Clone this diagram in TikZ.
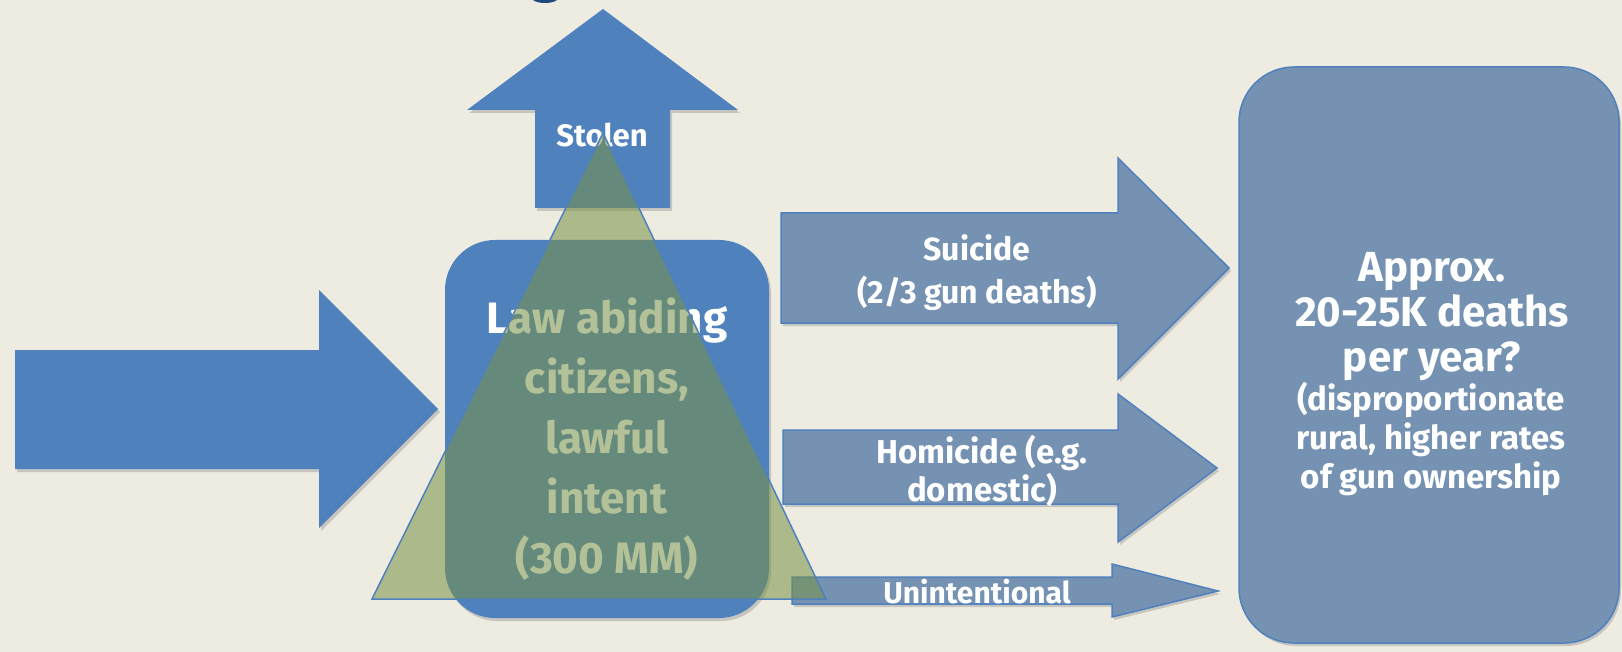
\documentclass[tikz,border=0pt]{standalone}
\usepackage{fontspec}
\setmainfont{Fira Sans}
\usetikzlibrary{shadows}

\definecolor{cream}{HTML}{EEEBE1}
\definecolor{solidblue}{HTML}{4F81BD}
\definecolor{greyblue}{HTML}{7592B3}
\definecolor{olive}{HTML}{789249}
\definecolor{navy}{HTML}{1F497D}

\begin{document}
\begin{tikzpicture}[x=1pt,y=-1pt,
    dropped/.style={drop shadow={shadow xshift=2pt,shadow yshift=-3pt,opacity=.35}},
    Solid/.style={fill=solidblue,dropped},
    Pale/.style={fill=greyblue,draw=solidblue,line width=1.5pt,dropped},
    Pyramid/.style={fill=olive,fill opacity=.56,draw=solidblue,line width=1.5pt},
    txt/.style={text=white,align=center,anchor=base,inner sep=0pt}]
    \fill[cream] (0,0) rectangle (1622,652);
    \useasboundingbox (0,0) rectangle (1622,652);
    \fill[navy] (533,0) .. controls (538,4) and (552,4) .. (557,0) -- cycle;

    \fill[Solid] (15,350) -- (319,350) -- (319,290) -- (438,409) -- (319,528) -- (319,469) -- (15,469) -- cycle;
    \fill[Solid] (535,208) -- (535,110) -- (467,110) -- (603,9) -- (738,110) -- (670,110) -- (670,208) -- cycle;
    \node[txt,font=\fontsize{31}{40}\selectfont\bfseries] (St) at (602,147) {Stolen};

    \fill[Solid,rounded corners=50pt] (445,240) rectangle (769,618);
    \node[txt,font=\fontsize{44}{60}\selectfont\bfseries] (L) at (607,573) {Law abiding\\citizens,\\lawful\\intent\\(300 MM)};

    \draw[Pale] (781,213) -- (1118,213) -- (1118,158) -- (1229,268) -- (1118,379) -- (1118,323) -- (781,323) -- cycle;
    \node[txt,font=\fontsize{32}{43}\selectfont\bfseries] (Su) at (977,303) {Suicide\\(2/3 gun deaths)};
    \draw[Pale] (783,430) -- (1118,430) -- (1118,394) -- (1217,468) -- (1118,542) -- (1118,504) -- (783,504) -- cycle;
    \node[txt,font=\fontsize{33}{38}\selectfont\bfseries] (H) at (982,501) {Homicide (e.g.\\domestic)};
    \draw[Pale] (792,577) -- (1112,577) -- (1112,564) -- (1218,591) -- (1112,617) -- (1112,604) -- (792,604) -- cycle;
    \node[txt,font=\fontsize{30}{39}\selectfont\bfseries] (U) at (977,603) {Unintentional};

    \draw[Pale,rounded corners=55pt] (1239,67) rectangle (1619,643);
    \node[txt,font=\fontsize{42}{45}\selectfont\bfseries] (D) at (1432,371) {Approx.\\20-25K deaths\\per year?};
    \node[txt,font=\fontsize{33}{39}\selectfont\bfseries] (R) at (1431,488) {(disproportionate\\rural, higher rates\\of gun ownership};

    % pyramid over the lawful owners
    \draw[Pyramid] (372,599) -- (603,133) -- (826,599) -- cycle;
\end{tikzpicture}
\end{document}
